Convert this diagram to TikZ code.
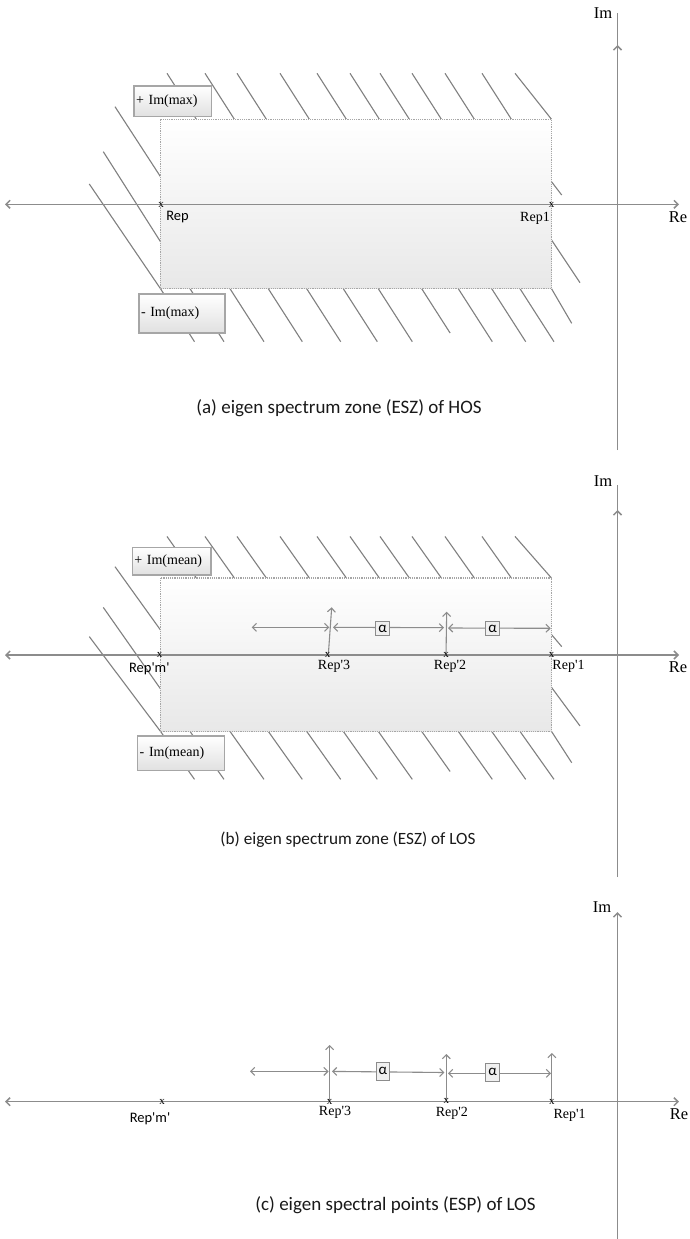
\documentclass[tikz,border=0pt]{standalone}
\usepackage{fontspec}
\setmainfont{Liberation Serif}
\newfontfamily\calfont{Carlito}
\usetikzlibrary{arrows.meta}
\tikzset{
  axisln/.style={draw=black!45, line width=1.5pt},
  hatchln/.style={draw=black!50, line width=1.1pt},
  zonebox/.style={draw=black!35, densely dotted, line width=1.2pt, top color=white, bottom color=black!9},
  lbox/.style={draw=black!35, line width=1.2pt, top color=white, bottom color=black!12, align=left, inner xsep=2pt, inner ysep=0pt, font=\fontsize{14}{16}\selectfont},
  abox/.style={draw=black!45, line width=1pt, fill=black!6, inner sep=0pt, minimum width=13.5pt, font=\calfont\fontsize{15}{15}\selectfont},
  tipb/.tip={Straight Barb[length=4pt,width=8pt]},
  dimln/.style={draw=black!45, line width=1.1pt, tipb-tipb},
  upln/.style={draw=black!45, line width=1.1pt, -tipb},
  bothln/.style={axisln, tipb-tipb},
  mk/.style={inner sep=0pt, font=\fontsize{11}{11}\selectfont},
  rlab/.style={inner sep=0pt, font=\fontsize{14}{14}\selectfont},
  slab/.style={inner sep=0pt, font=\calfont\fontsize{14.5}{14.5}\selectfont},
  axlab/.style={inner sep=0pt, font=\fontsize{16.5}{16.5}\selectfont},
  captxt/.style={inner sep=0pt, text=black!90},
}
\newcommand{\zonehatch}{%
  \foreach \t in {167,205,237,280,317,350,380,412,445,482}{\draw[hatchln] (\t,-131) -- ++(29.4,46);}
  \draw[hatchln] (515,-131) -- (551.5,-85);
  \draw[hatchln] (115,-97.6) -- (160.5,-27.6);
  \draw[hatchln] (103.3,-52.6) -- (160.5,37.4);
  \draw[hatchln] (89.3,-20.3) -- (160.5,84.4);
  \draw[hatchln] (551.5,-22.6) -- (561.7,-9.3);
  \draw[hatchln] (551.5,35.7) -- (580,78.4);
  \foreach \t in {160.5,190,230,268.3,306.7,343.3,378.3,458.3,491.7,520}{\draw[hatchln] (\t,84.4) -- ++(34,53);}
  \draw[hatchln] (421.7,84.4) -- ++(28.4,44.3);
  \draw[hatchln] (551.5,84.4) -- (571.7,119);
  \path[zonebox] (160.5,-85) rectangle (551.5,84.4);
}
\begin{document}
\begin{tikzpicture}[x=1pt,y=-1pt]
\useasboundingbox (0,0) rectangle (690,1239);
\fill[white] (0,0) rectangle (690,1239);

% ---------------- panel (a)
\begin{scope}[shift={(0,204.3)}]
  \zonehatch
\end{scope}
\node[lbox, text width=73.7pt, minimum height=30.7pt] (pmaxa) at (172.9,101.4) {+ Im(max)};
\node[lbox, text width=82pt, minimum height=39pt] (mmaxa) at (182,313.5) {- Im(max)};
\coordinate (aL) at (5,204.3);
\coordinate (aR) at (679,204.3);
\draw[bothln] (aL) -- (aR);
\coordinate (aImB) at (617.5,450);
\coordinate (aImT) at (617.5,13);
\coordinate (aImA) at (617.5,45);
\coordinate (aImA0) at (617.5,60);
\draw[axisln] (aImB) -- (aImT);
\draw[axisln, -tipb] (aImA0) -- (aImA);
\node[axlab] (aIm) at (603,13) {Im};
\node[axlab] (aRe) at (678,217.5) {Re};
\node[mk] (ma0) at (161,205) {x};
\node[mk] (ma1) at (551.5,205) {x};
\node[slab] (la0) at (177.5,216.7) {Rep};
\node[rlab] (la1) at (535,218.5) {Rep1};
\node[captxt, font=\calfont\fontsize{19}{19}\selectfont] (capa) at (339,408) {(a) eigen spectrum zone (ESZ) of HOS};

% ---------------- panel (b)
\begin{scope}[shift={(0,655)}, yscale=0.905]
  \zonehatch
\end{scope}
\node[lbox, text width=74.7pt, minimum height=27.7pt] (pmeanb) at (171.7,561.2) {+ Im(mean)};
\node[lbox, text width=82.6pt, minimum height=34.7pt] (mmeanb) at (181,753.4) {- Im(mean)};
\coordinate (bL) at (5,655);
\coordinate (bR) at (679,655);
\draw[bothln] (bL) -- (bR);
\coordinate (bImB) at (617.5,877);
\coordinate (bImT) at (617.5,485);
\coordinate (bImA) at (617.5,510);
\coordinate (bImA0) at (617.5,525);
\draw[axisln] (bImB) -- (bImT);
\draw[axisln, -tipb] (bImA0) -- (bImA);
\node[axlab] (bIm) at (603,481) {Im};
\node[axlab] (bRe) at (678,667) {Re};
\coordinate (b3) at (328.3,655);
\coordinate (b3t) at (331.7,607.3);
\coordinate (b2) at (446,655);
\coordinate (b2t) at (446.7,611.7);
\draw[upln] (b3) -- (b3t);
\draw[upln] (b2) -- (b2t);
\coordinate (bd0) at (251.7,627.3);
\coordinate (bd1) at (329.3,627.3);
\coordinate (bd2) at (333,627.3);
\coordinate (bd3) at (444,627.7);
\coordinate (bd4) at (448,628);
\coordinate (bd5) at (550.7,628.3);
\draw[dimln] (bd0) -- (bd1);
\draw[dimln] (bd2) -- (bd3);
\draw[dimln] (bd4) -- (bd5);
\node[abox, minimum height=13.5pt] (ba1) at (382.7,628.7) {α};
\node[abox, minimum height=14pt] (ba2) at (492.7,628.7) {α};
\node[mk] (mbm) at (159.5,655) {x};
\node[mk] (mb3) at (327.7,655) {x};
\node[mk] (mb2) at (446,654.5) {x};
\node[mk] (mb1) at (551.7,654.5) {x};
\node[slab] (lbm) at (149.3,669) {Rep\textquotesingle m\textquotesingle};
\node[rlab] (lb3) at (334,666.7) {Rep\textquotesingle 3};
\node[rlab] (lb2) at (450,666) {Rep\textquotesingle 2};
\node[rlab] (lb1) at (568.5,666.7) {Rep\textquotesingle 1};
\node[captxt, font=\calfont\fontsize{17.2}{17.2}\selectfont] (capb) at (348,840) {(b) eigen spectrum zone (ESZ) of LOS};

% ---------------- panel (c)
\coordinate (cL) at (5,1101.7);
\coordinate (cR) at (679,1101.7);
\draw[bothln] (cL) -- (cR);
\coordinate (cImB) at (617.5,1239);
\coordinate (cImT) at (617.5,912);
\draw[axisln, -tipb] (cImB) -- (cImT);
\node[axlab] (cIm) at (602,907.3) {Im};
\node[axlab] (cRe) at (679,1114) {Re};
\coordinate (c3) at (329.6,1101.7);
\coordinate (c3t) at (329.6,1045);
\coordinate (c2) at (446.3,1101.7);
\coordinate (c2t) at (446.3,1054);
\coordinate (c1) at (551.9,1101.7);
\coordinate (c1t) at (551.9,1053);
\draw[upln] (c3) -- (c3t);
\draw[upln] (c2) -- (c2t);
\draw[upln] (c1) -- (c1t);
\coordinate (cd0) at (250,1071.4);
\coordinate (cd1) at (328.6,1071.4);
\coordinate (cd2) at (332,1071.4);
\coordinate (cd3) at (444.4,1072.5);
\coordinate (cd4) at (448,1073.3);
\coordinate (cd5) at (551,1073.3);
\draw[dimln] (cd0) -- (cd1);
\draw[dimln] (cd2) -- (cd3);
\draw[dimln] (cd4) -- (cd5);
\node[abox, minimum height=17.5pt] (ca1) at (383,1071.3) {α};
\node[abox, minimum height=18pt] (ca2) at (492.5,1072) {α};
\node[mk] (mcm) at (162,1102) {x};
\node[mk] (mc3) at (329.6,1102) {x};
\node[mk] (mc2) at (446.3,1101) {x};
\node[mk] (mc1) at (551.9,1102) {x};
\node[slab] (lcm) at (150,1118.3) {Rep\textquotesingle m\textquotesingle};
\node[rlab] (lc3) at (335,1112.7) {Rep\textquotesingle 3};
\node[rlab] (lc2) at (451.8,1113.5) {Rep\textquotesingle 2};
\node[rlab] (lc1) at (569.6,1115) {Rep\textquotesingle 1};
\node[captxt, font=\calfont\fontsize{19}{19}\selectfont] (capc) at (395.5,1205) {(c) eigen spectral points (ESP) of LOS};
\end{tikzpicture}
\end{document}
